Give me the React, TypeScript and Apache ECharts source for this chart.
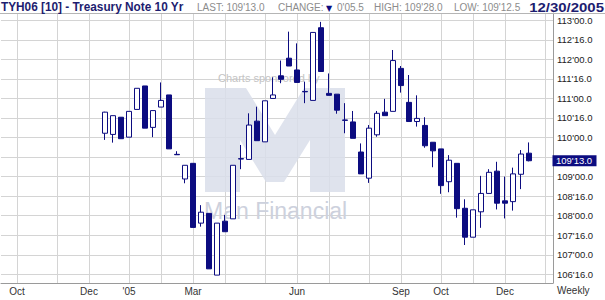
import React, { useEffect, useRef } from "react";
import * as echarts from "echarts";

// ---------- data ----------
const contractTitle = "TYH06 [10] - Treasury Note 10 Yr";
const asOfDate = "12/30/2005";
const periodLabel = "Weekly";
const sponsorLine = "Charts sponsored by";
const sponsorName = "Man Financial";

// weekly slots (week ending Friday) shown on the axis
const firstSlotUTC = Date.UTC(2004, 8, 17);
const slotCount = 70;
const firstBarDate = "2004-12-17";

const opens = [
  110.11, 110.08, 110.52, 110.01, 110.72, 111.32, 110.26, 110.78, 111.09, 109.57,
  108.94, 109.34, 107.81, 108.06, 106.48, 107.86, 107.92, 109.46, 109.44, 110.42,
  109.89, 111.0, 111.58, 112.03, 111.73, 111.18, 110.95, 112.81, 111.13, 111.11,
  110.45, 110.4, 109.63, 108.96, 110.07, 110.65, 110.67, 111.77, 110.9, 110.41,
  110.31, 109.88, 109.71, 108.87, 109.34, 108.19, 107.45, 108.1, 108.57, 109.14,
  108.38, 108.36, 109.06, 109.6,
];
const closes = [
  110.65, 110.56, 109.97, 110.67, 111.26, 110.24, 110.69, 110.95, 109.71, 109.56,
  109.29, 107.7, 108.09, 106.64, 107.81, 107.59, 109.29, 109.45, 110.32, 109.92,
  110.94, 111.09, 111.49, 111.83, 111.41, 111.17, 112.69, 111.69, 111.08, 110.7,
  110.44, 109.98, 109.07, 110.24, 110.62, 110.56, 111.97, 111.33, 110.41, 110.49,
  109.79, 109.66, 108.77, 109.42, 108.18, 107.45, 108.15, 108.57, 109.11, 108.32,
  108.32, 109.07, 109.578125, 109.40625,
];
const lows = [
  109.94, 109.87, 109.97, 110.01, 110.72, 110.24, 110.01, 110.78, 109.71, 109.56,
  108.83, 107.7, 107.72, 106.64, 106.48, 107.59, 107.92, 109.19, 109.44, 109.92,
  109.89, 111.0, 111.39, 111.83, 111.41, 110.88, 110.95, 111.69, 111.08, 110.61,
  110.11, 109.98, 109.07, 108.84, 110.02, 110.56, 110.67, 111.15, 110.41, 110.28,
  109.74, 109.24, 108.56, 108.6, 107.95, 107.25, 107.45, 107.69, 108.57, 108.16,
  107.93, 108.13, 108.68, 109.390625,
];
const highs = [
  110.66, 110.56, 110.52, 110.67, 111.26, 111.32, 110.69, 111.41, 111.09, 109.65,
  109.29, 109.34, 108.27, 108.06, 107.81, 108.02, 109.29, 109.81, 110.62, 110.79,
  110.94, 111.54, 111.97, 112.71, 112.41, 111.43, 112.69, 112.96, 111.64, 111.11,
  110.88, 110.68, 109.85, 110.32, 110.68, 110.99, 112.24, 111.83, 111.6, 111.08,
  110.52, 109.88, 109.71, 109.55, 109.34, 108.42, 108.15, 109.02, 109.19, 109.38,
  109.0, 109.23, 109.68, 109.875,
];

const xLabelMonths = ["2004-10", "2004-12", "2005-01", "2005-03", "2005-06", "2005-09", "2005-10", "2005-12"];
const xLabelTexts = ["Oct", "Dec", "'05", "Mar", "Jun", "Sep", "Oct", "Dec"];

const yTickMin = 106.5;
const yTickMax = 113;
const yTickStep = 0.5;

// ---------- helpers ----------
const FONT = '"Liberation Sans", Arial, sans-serif';
const NAVY = "#0c0c80";
const TITLE = "#1d1d70";
const GRID = "#d4d4d4";

function fmt32(v: number): string {
  let whole = Math.floor(v + 1e-9);
  let t = Math.round((v - whole) * 32 * 2) / 2;
  if (t >= 32) {
    whole += 1;
    t -= 32;
  }
  return `${whole}'${t < 10 ? "0" : ""}${t.toFixed(1)}`;
}

const categories: string[] = [];
for (let k = 0; k < slotCount; k++) {
  categories.push(new Date(firstSlotUTC + k * 7 * 86400000).toISOString().slice(0, 10));
}
const isMonthStart = (d: string) => Number(d.slice(8, 10)) <= 7;
const labelMap: Record<string, string> = {};
xLabelMonths.forEach((m, i) => (labelMap[m] = xLabelTexts[i]));

const startIdx = categories.indexOf(firstBarDate);
const candleData: any[] = categories.map((_, k) => {
  const j = k - startIdx;
  if (j < 0 || j >= opens.length) return "-";
  return [opens[j], closes[j], lows[j], highs[j]];
});

const n = closes.length;
const lastClose = closes[n - 1];
const change = lastClose - closes[n - 2];

export default function App() {
  const ref = useRef<HTMLDivElement>(null);
  useEffect(() => {
    document.body.style.margin = "0";
    const chart = echarts.init(ref.current!, undefined, { renderer: "svg" });
    chart.setOption({
      animation: false,
      backgroundColor: "#ffffff",
      grid: [
        { left: 1, right: 52, top: 13, bottom: 17 },
        { left: 1, right: 52, top: 20.3, bottom: 25.7 },
      ],
      xAxis: [
        {
          type: "category",
          gridIndex: 0,
          data: categories,
          boundaryGap: false,
          axisLine: { lineStyle: { color: "#9a9a9a" } },
          axisTick: { show: false },
          axisLabel: {
            interval: (_i: number, v: string) => isMonthStart(v) && labelMap[v.slice(0, 7)] !== undefined,
            formatter: (v: string) => (isMonthStart(v) ? labelMap[v.slice(0, 7)] ?? "" : ""),
            margin: 3,
            fontSize: 10,
            fontFamily: FONT,
            color: "#333",
          },
          splitLine: {
            show: true,
            interval: (_i: number, v: string) => isMonthStart(v),
            lineStyle: { color: GRID, width: 1 },
          },
        },
        { type: "value", gridIndex: 1, min: 0, max: 1, show: false },
      ],
      yAxis: [
        {
          type: "value",
          gridIndex: 0,
          position: "right",
          min: 106.278,
          max: 113.187,
          axisLine: { show: true, lineStyle: { color: "#9a9a9a" } },
          axisTick: { show: false },
          axisLabel: { show: false },
          splitLine: { show: false },
        },
        {
          type: "value",
          gridIndex: 1,
          position: "right",
          min: yTickMin,
          max: yTickMax,
          interval: yTickStep,
          axisLine: { show: false },
          axisTick: { show: false },
          axisLabel: {
            // the tick label that sits under the last-price marker is covered by it
            formatter: (v: number) => (Math.abs(v - lastClose) < 0.2 ? "" : fmt32(v)),
            margin: 4,
            fontSize: 9.5,
            fontFamily: FONT,
            color: "#222",
          },
          splitLine: { show: true, lineStyle: { color: GRID, width: 1 } },
        },
      ],
      series: [
        {
          type: "candlestick",
          xAxisIndex: 0,
          yAxisIndex: 0,
          data: candleData,
          barWidth: 5,
          z: 5,
          itemStyle: {
            color: "#ffffff",
            color0: NAVY,
            borderColor: NAVY,
            borderColor0: NAVY,
            borderWidth: 1,
          },
        },
      ],
    });

    const py = chart.convertToPixel({ yAxisIndex: 0 }, lastClose) as number;
    const gray = (text: string, x: number) => ({
      type: "text",
      z: 10,
      x,
      y: 12.5,
      style: { text, font: `10px ${FONT}`, fill: "#8c8c8c", textVerticalAlign: "bottom" },
    });

    chart.setOption({
      graphic: [
        // watermark
        {
          type: "polygon",
          z: 1,
          shape: {
            points: [
              [205, 88], [246, 88], [275, 135], [304, 88], [345, 88], [345, 192], [310, 192],
              [310, 140], [284, 182], [266, 182], [240, 140], [240, 192], [205, 192],
            ],
          },
          style: { fill: "#d9deea", opacity: 0.85 },
        },
        {
          type: "text",
          z: 1,
          x: 218,
          y: 78,
          style: { text: sponsorLine, font: `11px ${FONT}`, fill: "#c4c4c4", textVerticalAlign: "middle" },
        },
        {
          type: "text",
          z: 1,
          x: 204,
          y: 211,
          style: { text: sponsorName, font: `23px ${FONT}`, fill: "#cdd1dd", textVerticalAlign: "middle" },
        },
        // header
        { type: "line", z: 10, shape: { x1: 0, y1: 13.5, x2: 605, y2: 13.5 }, style: { stroke: "#b5b5b5", lineWidth: 1 } },
        {
          type: "text",
          z: 10,
          x: 1,
          y: 13.5,
          scaleX: 0.91,
          style: { text: contractTitle, font: `bold 13px ${FONT}`, fill: TITLE, textVerticalAlign: "bottom" },
        },
        gray(`LAST: ${fmt32(lastClose)}`, 197),
        gray("CHANGE:", 278),
        {
          type: "text",
          z: 10,
          x: 326,
          y: 12,
          style: { text: change < 0 ? "▼" : "▲", font: `8px "DejaVu Sans"`, fill: NAVY, textVerticalAlign: "bottom" },
        },
        gray(fmt32(Math.abs(change)), 337),
        gray(`HIGH: ${fmt32(highs[n - 1])}`, 374),
        gray(`LOW: ${fmt32(lows[n - 1])}`, 454),
        {
          type: "text",
          z: 10,
          x: 604,
          y: 13.5,
          scaleX: 1.15,
          style: { text: asOfDate, font: `bold 13px ${FONT}`, fill: TITLE, textAlign: "right", textVerticalAlign: "bottom" },
        },
        // current price marker on the price axis
        {
          type: "rect",
          z: 20,
          shape: { x: 552.5, y: py - 5.5, width: 44, height: 11 },
          style: { fill: NAVY },
        },
        {
          type: "text",
          z: 21,
          x: 556,
          y: py,
          style: { text: fmt32(lastClose), font: `9.5px ${FONT}`, fill: "#ffffff", textVerticalAlign: "middle" },
        },
        // period label
        {
          type: "text",
          z: 10,
          x: 557,
          y: 290,
          style: { text: periodLabel, font: `10px ${FONT}`, fill: "#333", textVerticalAlign: "middle" },
        },
      ],
    });
    return () => chart.dispose();
  }, []);
  return <div ref={ref} style={{ position: "absolute", left: 0, top: 0, width: 605, height: 300 }} />;
}
